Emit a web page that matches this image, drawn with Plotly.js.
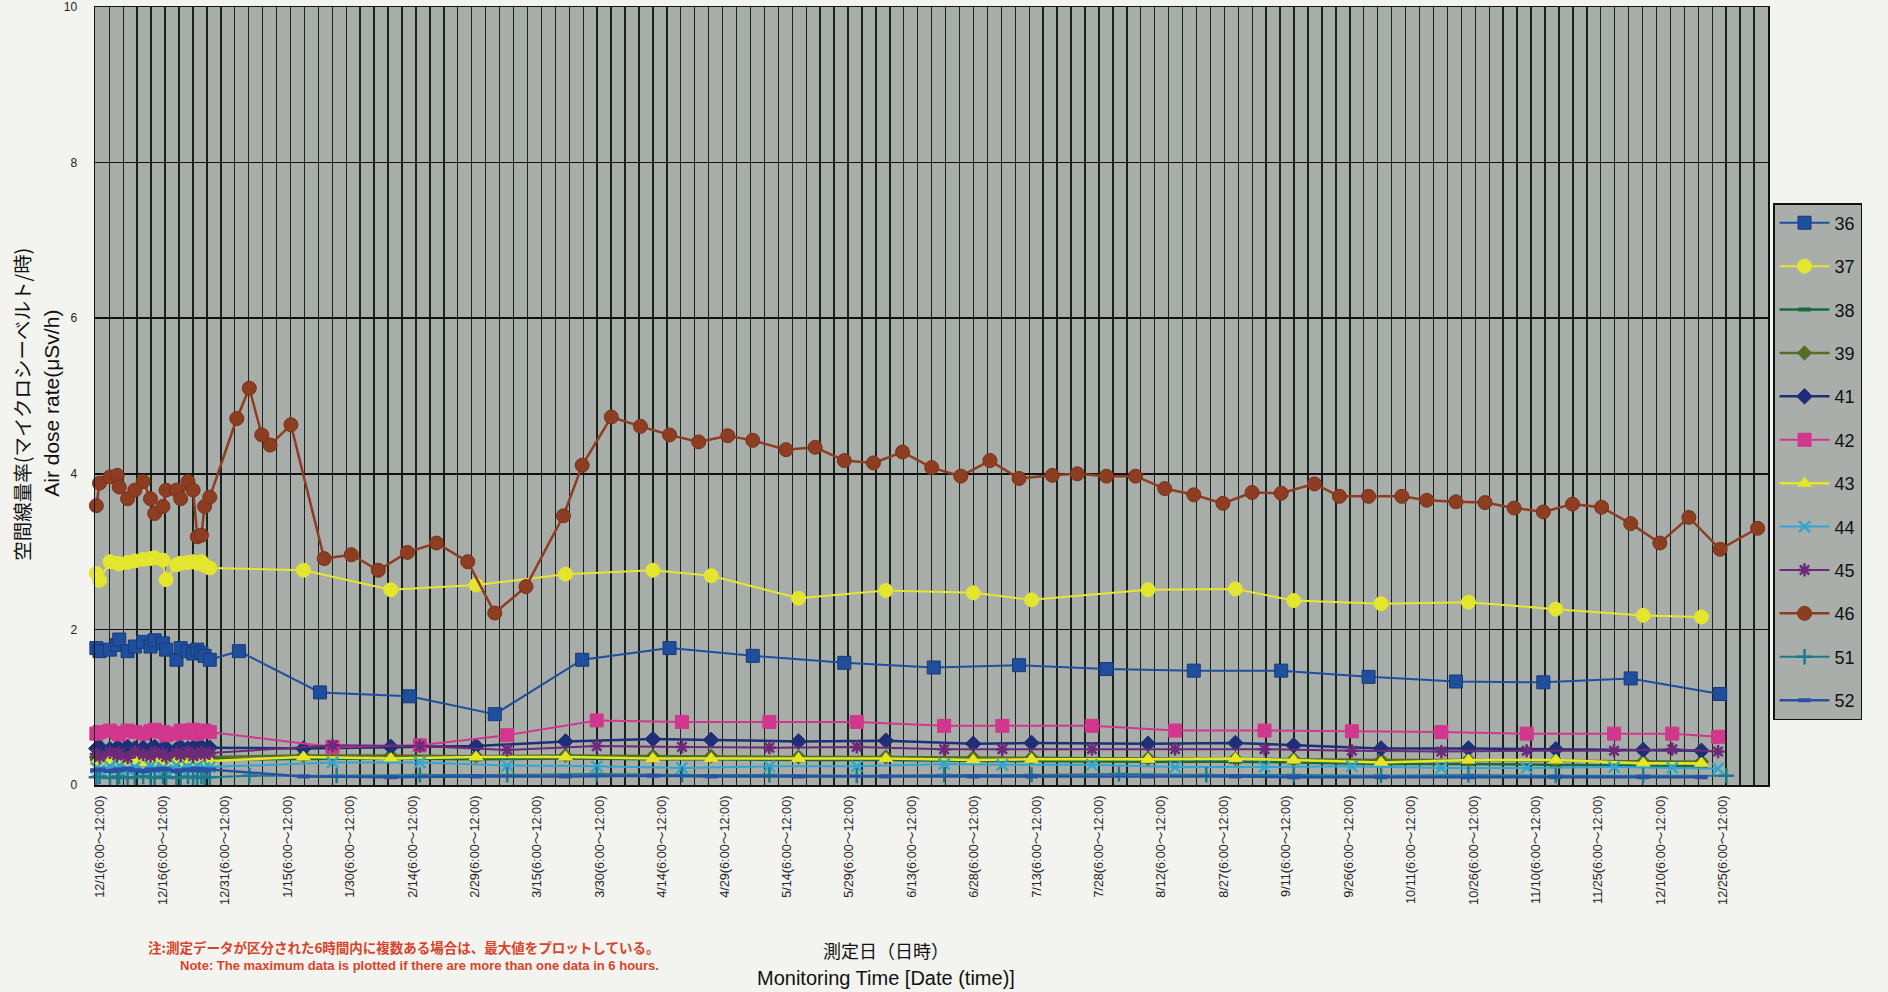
<!DOCTYPE html>
<html>
<head>
<meta charset="utf-8">
<script src="https://cdn.plot.ly/plotly-3.0.1.min.js"></script>
<style>
html,body{margin:0;padding:0;background:#f3f3f0;}
#chart{width:1888px;height:992px;}
</style>
</head>
<body>
<div id="chart"></div>
<script>
// ---------- DATA ----------
const seriesNames = ['36','37','38','39','41','42','43','44','45','46','51','52'];

// dense December 2011 period (6-hour slots)
const decDates = ['2011-12-01 06:00','2011-12-02 00:00','2011-12-04 12:00','2011-12-06 06:00','2011-12-06 18:00',
  '2011-12-08 18:00','2011-12-10 12:00','2011-12-12 12:00','2011-12-14 06:00','2011-12-15 06:00',
  '2011-12-17 06:00','2011-12-18 00:00','2011-12-20 12:00','2011-12-21 12:00','2011-12-23 06:00',
  '2011-12-24 12:00','2011-12-25 12:00','2011-12-26 12:00','2011-12-27 06:00','2011-12-28 12:00'];

// later measurement dates
const datesA = ['2012-01-20','2012-02-10','2012-03-01 12:00','2012-03-23','2012-04-13','2012-04-27','2012-05-18',
  '2012-06-08','2012-06-29','2012-07-13','2012-08-10','2012-08-31','2012-09-14','2012-10-05','2012-10-26',
  '2012-11-16','2012-12-07','2012-12-21'];
const datesB = ['2012-01-04 12:00','2012-01-24','2012-02-14 12:00','2012-03-06','2012-03-27','2012-04-17','2012-05-07',
  '2012-05-29','2012-06-19 12:00','2012-07-10','2012-07-31','2012-08-21','2012-09-11','2012-10-02','2012-10-23',
  '2012-11-13','2012-12-04','2012-12-25 12:00'];
const datesC = ['2012-01-27','2012-02-17','2012-03-09','2012-03-30 12:00','2012-04-20','2012-05-11','2012-06-01',
  '2012-06-22','2012-07-06','2012-07-27 12:00','2012-08-16 12:00','2012-09-07','2012-09-28','2012-10-19 12:00',
  '2012-11-09','2012-11-30','2012-12-14','2012-12-25'];
const datesD = ['2012-01-07','2012-01-28','2012-02-17','2012-03-09','2012-03-30 12:00','2012-04-20','2012-05-11',
  '2012-06-01','2012-06-22','2012-07-13','2012-08-03','2012-08-24','2012-09-14','2012-10-05','2012-10-26',
  '2012-11-16','2012-12-07','2012-12-27'];
const dates46 = ['2012-01-04','2012-01-07','2012-01-10','2012-01-12','2012-01-17','2012-01-25','2012-01-31 12:00',
  '2012-02-07','2012-02-14','2012-02-21','2012-02-28 12:00','2012-03-06','2012-03-13 12:00','2012-03-22 12:00',
  '2012-03-27','2012-04-03','2012-04-10','2012-04-17','2012-04-24','2012-05-01','2012-05-07','2012-05-15',
  '2012-05-22','2012-05-29','2012-06-05','2012-06-12','2012-06-19','2012-06-26','2012-07-03','2012-07-10',
  '2012-07-18','2012-07-24','2012-07-31','2012-08-07','2012-08-14','2012-08-21','2012-08-28','2012-09-04',
  '2012-09-11','2012-09-19','2012-09-25','2012-10-02','2012-10-10','2012-10-16','2012-10-23','2012-10-30',
  '2012-11-06','2012-11-13','2012-11-20','2012-11-27','2012-12-04','2012-12-11','2012-12-18','2012-12-25 12:00',
  '2013-01-03 12:00'];

// values (µSv/h)
const dec36 = [1.76,1.72,1.74,1.80,1.87,1.72,1.78,1.84,1.78,1.86,1.82,1.74,1.61,1.76,1.72,1.69,1.74,1.70,1.66,1.61];
const val36 = [1.72,1.19,1.14,0.91,1.61,1.76,1.66,1.57,1.51,1.54,1.49,1.47,1.47,1.39,1.33,1.32,1.37,1.17];
const dec37 = [2.72,2.63,2.87,2.85,2.84,2.86,2.88,2.90,2.91,2.92,2.89,2.64,2.83,2.85,2.86,2.87,2.85,2.87,2.82,2.79];
const val37 = [2.76,2.51,2.57,2.71,2.76,2.69,2.40,2.50,2.47,2.38,2.51,2.52,2.37,2.33,2.35,2.26,2.18,2.16];
const dec38 = [0.33,0.34,0.33,0.32,0.34,0.33,0.34,0.33,0.32,0.34,0.33,0.34,0.33,0.32,0.34,0.33,0.34,0.33,0.32,0.33];
const val38 = [0.34,0.34,0.33,0.34,0.33,0.33,0.32,0.32,0.31,0.31,0.30,0.30,0.29,0.27,0.27,0.26,0.25,0.24];
const dec39 = [0.36,0.35,0.37,0.36,0.35,0.36,0.37,0.35,0.36,0.37,0.36,0.35,0.36,0.37,0.35,0.36,0.37,0.36,0.35,0.36];
const val39 = [0.38,0.38,0.37,0.38,0.37,0.37,0.36,0.36,0.35,0.35,0.34,0.34,0.33,0.32,0.32,0.31,0.30,0.30];
const dec41 = [0.47,0.49,0.46,0.48,0.47,0.49,0.47,0.48,0.46,0.49,0.47,0.48,0.46,0.49,0.47,0.48,0.47,0.49,0.46,0.48];
const val41 = [0.47,0.49,0.50,0.56,0.59,0.58,0.56,0.57,0.53,0.54,0.53,0.54,0.51,0.47,0.47,0.46,0.45,0.44];
const dec42 = [0.66,0.68,0.70,0.67,0.65,0.70,0.68,0.66,0.69,0.71,0.68,0.64,0.66,0.70,0.67,0.71,0.66,0.69,0.70,0.68];
const val42 = [0.49,0.51,0.64,0.83,0.81,0.81,0.81,0.76,0.76,0.76,0.70,0.70,0.69,0.68,0.66,0.66,0.66,0.62];
const dec43 = [0.30,0.29,0.31,0.30,0.29,0.30,0.31,0.29,0.30,0.31,0.29,0.30,0.31,0.30,0.29,0.31,0.30,0.29,0.30,0.31];
const val43 = [0.36,0.34,0.36,0.36,0.34,0.34,0.34,0.34,0.32,0.33,0.33,0.34,0.32,0.29,0.32,0.32,0.28,0.28];
const dec44 = [0.22,0.19,0.24,0.21,0.25,0.20,0.23,0.18,0.24,0.21,0.22,0.19,0.25,0.20,0.23,0.21,0.24,0.19,0.22,0.23];
const val44 = [0.29,0.29,0.25,0.24,0.22,0.24,0.24,0.27,0.26,0.26,0.23,0.23,0.24,0.22,0.22,0.23,0.22,0.21];
const dec45 = [0.40,0.36,0.42,0.38,0.41,0.35,0.43,0.39,0.37,0.42,0.40,0.36,0.41,0.38,0.43,0.37,0.40,0.42,0.39,0.41];
const val45 = [0.51,0.50,0.45,0.50,0.49,0.48,0.49,0.46,0.46,0.46,0.46,0.46,0.44,0.43,0.44,0.44,0.46,0.43];
const dec46 = [3.59,3.88,3.96,3.98,3.83,3.68,3.79,3.90,3.68,3.49,3.58,3.79,3.79,3.68,3.90,3.79,3.19,3.21,3.58,3.70];
const val46 = [4.71,5.10,4.50,4.37,4.63,2.91,2.96,2.76,2.99,3.11,2.87,2.21,2.55,3.46,4.11,4.73,4.61,4.50,4.41,4.49,
  4.43,4.31,4.34,4.17,4.14,4.28,4.08,3.97,4.17,3.94,3.98,4.00,3.97,3.97,3.81,3.73,3.62,3.76,3.75,3.87,
  3.71,3.71,3.71,3.66,3.64,3.63,3.56,3.51,3.61,3.57,3.36,3.11,3.44,3.03,3.30];
const dec51 = [0.10,0.11,0.09,0.10,0.11,0.09,0.10,0.11,0.10,0.09,0.11,0.10,0.09,0.10,0.11,0.10,0.09,0.11,0.10,0.10];
const val51 = [0.12,0.12,0.13,0.13,0.14,0.13,0.13,0.12,0.13,0.13,0.14,0.13,0.13,0.12,0.13,0.12,0.12,0.12];
const dec52 = [0.19,0.20,0.18,0.19,0.20,0.21,0.19,0.18,0.20,0.19,0.21,0.20,0.18,0.19,0.20,0.19,0.21,0.20,0.19,0.20];
const val52 = [0.11,0.10,0.11,0.11,0.12,0.11,0.11,0.11,0.11,0.11,0.11,0.11,0.10,0.10,0.10,0.10,0.10,0.10];

// x axis tick labels
const tickDates = ['2011-12-01','2011-12-16','2011-12-31','2012-01-15','2012-01-30','2012-02-14','2012-02-29',
  '2012-03-15','2012-03-30','2012-04-14','2012-04-29','2012-05-14','2012-05-29','2012-06-13','2012-06-28',
  '2012-07-13','2012-07-28','2012-08-12','2012-08-27','2012-09-11','2012-09-26','2012-10-11','2012-10-26',
  '2012-11-10','2012-11-25','2012-12-10','2012-12-25'];
const tickDays = ['12/1','12/16','12/31','1/15','1/30','2/14','2/29','3/15','3/30','4/14','4/29','5/14','5/29',
  '6/13','6/28','7/13','7/28','8/12','8/27','9/11','9/26','10/11','10/26','11/10','11/25','12/10','12/25'];
const tickLabels = tickDays.map(d => d + '(6:00～12:00)');
const yTickVals = [0,2,4,6,8,10];

// ---------- STYLES ----------
const styles = {
  '36': {color:'#1f4f9c', symbol:'square', size:13, lw:2, mline:'#173b78'},
  '37': {color:'#e4e62e', symbol:'circle', size:14, lw:2, mline:'#e4e62e'},
  '38': {color:'#1b6a3b', symbol:'line-ew-open', size:9, lw:2.5, mline:'#1b6a3b', mlw:4},
  '39': {color:'#566c24', symbol:'diamond', size:11, lw:2.5, mline:'#566c24'},
  '41': {color:'#1e2f78', symbol:'diamond', size:12, lw:2.5, mline:'#1e2f78'},
  '42': {color:'#d1378c', symbol:'square', size:13, lw:2, mline:'#d1378c'},
  '43': {color:'#e4e628', symbol:'triangle-up', size:12, lw:2.5, mline:'#e4e628'},
  '44': {color:'#33a6cf', symbol:'x-thin-open', size:11, lw:2, mline:'#33a6cf', mlw:2.5},
  '45': {color:'#6c2a79', symbol:'asterisk-open', size:11, lw:2, mline:'#6c2a79', mlw:2.5},
  '46': {color:'#8d3d22', symbol:'circle', size:14, lw:2.5, mline:'#7a3219'},
  '51': {color:'#1b7b8c', symbol:'cross-thin-open', size:11, lw:2, mline:'#1b7b8c', mlw:2.5},
  '52': {color:'#2a50a6', symbol:'line-ew-open', size:9, lw:2.5, mline:'#2a50a6', mlw:4}
};

const seriesData = {
  '36': [decDates.concat(datesB), dec36.concat(val36)],
  '37': [decDates.concat(datesA), dec37.concat(val37)],
  '38': [decDates.concat(datesA), dec38.concat(val38)],
  '39': [decDates.concat(datesA), dec39.concat(val39)],
  '41': [decDates.concat(datesA), dec41.concat(val41)],
  '42': [decDates.concat(datesC), dec42.concat(val42)],
  '43': [decDates.concat(datesA), dec43.concat(val43)],
  '44': [decDates.concat(datesC), dec44.concat(val44)],
  '45': [decDates.concat(datesC), dec45.concat(val45)],
  '46': [decDates.concat(dates46), dec46.concat(val46)],
  '51': [decDates.concat(datesD), dec51.concat(val51)],
  '52': [decDates.concat(datesA), dec52.concat(val52)]
};

const traces = seriesNames.map(n => {
  const s = styles[n];
  return {
    type:'scatter', mode:'lines+markers', name:n, legendgroup:'g'+n,
    x: seriesData[n][0], y: seriesData[n][1],
    line:{color:s.color, width:s.lw},
    marker:{color:s.color, symbol:s.symbol, size:s.size, line:{color:s.mline, width:s.mlw || 1}},
    cliponaxis:false
  };
});

const latin = 'Liberation Sans, Arial, Noto Sans CJK JP, sans-serif';
const jp = 'Noto Sans CJK JP, Liberation Sans, sans-serif';
const dayMs = 86400000;

const layout = {
  width:1888, height:992,
  paper_bgcolor:'#f3f3f0', plot_bgcolor:'#a8ada9',
  margin:{l:95, r:120, t:7, b:207},
  showlegend:true,
  legend:{
    x:1.003, xanchor:'left', y:0.748, yanchor:'top',
    bgcolor:'#a9aeaa', bordercolor:'#111111', borderwidth:1.5,
    font:{family:latin, size:18, color:'#111111'},
    tracegroupgap:17, itemwidth:50
  },
  xaxis:{
    type:'date',
    range:['2011-11-30 22:00','2013-01-06 00:00'],
    tickmode:'array', tickvals:tickDates, ticktext:tickLabels,
    tickangle:-90, ticks:'', ticklabelshift:5, ticklabelstandoff:4,
    tickfont:{family:latin, size:12.7, color:'#222222'},
    showgrid:false, zeroline:false,
    showline:true, mirror:true, linecolor:'#111111', linewidth:1.5,
    minor:{tickmode:'linear', tick0:'2011-12-01', dtick:3.35*dayMs, showgrid:true,
           gridcolor:'#16231b', gridwidth:1.4, ticks:''}
  },
  yaxis:{
    range:[0,10], tickmode:'array', tickvals:yTickVals,
    ticks:'', ticklabelstandoff:14,
    tickfont:{family:latin, size:12, color:'#222222'},
    showgrid:true, gridcolor:'#111111', gridwidth:1.5, zeroline:false,
    showline:true, mirror:true, linecolor:'#111111', linewidth:1.5
  },
  annotations:[
    {text:'空間線量率(マイクロシーベルト/時)', xref:'paper', yref:'paper', x:-0.0437, y:0.49,
     xanchor:'center', yanchor:'middle', textangle:-90, showarrow:false,
     font:{family:jp, size:19.5, color:'#111111'}},
    {text:'Air dose rate(μSv/h)', xref:'paper', yref:'paper', x:-0.0257, y:0.49,
     xanchor:'center', yanchor:'middle', textangle:-90, showarrow:false,
     font:{family:latin, size:21, color:'#111111'}},
    {text:'測定日（日時）', xref:'paper', yref:'paper', x:0.4727, y:-0.212,
     xanchor:'center', yanchor:'middle', showarrow:false,
     font:{family:jp, size:18, color:'#111111'}},
    {text:'Monitoring Time [Date (time)]', xref:'paper', yref:'paper', x:0.4727, y:-0.248,
     xanchor:'center', yanchor:'middle', showarrow:false,
     font:{family:latin, size:20, color:'#111111'}},
    {text:'<b>注:測定データが区分された6時間内に複数ある場合は、最大値をプロットしている。</b>', xref:'paper', yref:'paper',
     x:0.3383, y:-0.2082, xanchor:'right', yanchor:'middle', showarrow:false,
     font:{family:jp, size:13.5, color:'#d8432a'}},
    {text:'<b>Note: The maximum data is plotted if there are more than one data in 6 hours.</b>', xref:'paper', yref:'paper',
     x:0.3383, y:-0.2314, xanchor:'right', yanchor:'middle', showarrow:false,
     font:{family:'Liberation Sans Narrow, Arial Narrow, Liberation Sans, sans-serif', size:13, color:'#d8432a'}}
  ]
};

Plotly.newPlot('chart', traces, layout, {displayModeBar:false, staticPlot:true});
</script>
</body>
</html>
